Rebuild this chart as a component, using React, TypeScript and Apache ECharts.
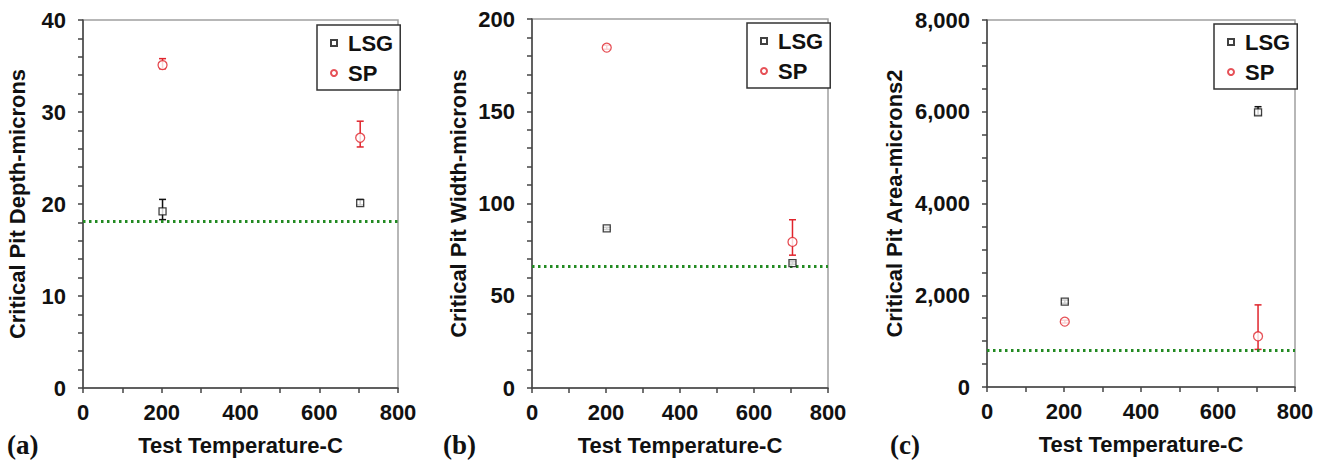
import React, { useEffect, useRef } from "react";
import * as echarts from "echarts";

// ---- data ----
const temps = [202, 704];

const depthLSG = [19.2, 20.1];
const depthLSGLow = [18.3, 19.9];
const depthLSGHigh = [20.5, 20.5];
const depthSP = [35.1, 27.2];
const depthSPLow = [34.7, 26.2];
const depthSPHigh = [35.8, 29.0];

const widthLSG = [86.5, 67.7];
const widthLSGLow = [85.9, 67.1];
const widthLSGHigh = [87.1, 68.4];
const widthSP = [184.5, 79.2];
const widthSPLow = [183.6, 72.0];
const widthSPHigh = [185.8, 91.2];

const areaLSG = [1862, 5985];
const areaLSGLow = [1825, 5930];
const areaLSGHigh = [1895, 6110];
const areaSP = [1425, 1105];
const areaSPLow = [1395, 820];
const areaSPHigh = [1455, 1790];

const thresholds = [18.1, 66, 800];

const yTitles = [
  "Critical Pit Depth-microns",
  "Critical Pit Width-microns",
  "Critical Pit Area-microns2",
];
const xTitle = "Test Temperature-C";
const panelLabels = ["(a)", "(b)", "(c)"];
const yMax = [40, 200, 8000];
const yMajor = [10, 50, 2000];
const yMinorSplit = [5, 5, 4];

const FONT = "'Liberation Sans', Arial, sans-serif";
const RED = "#e0242c";
const BLACK = "#111";
const GREEN = "#228a22";
const AXIS = "#444";

const grids = [
  { left: 83, top: 20, width: 315, height: 368 },
  { left: 532, top: 19, width: 296, height: 369 },
  { left: 987, top: 20, width: 308, height: 367 },
];
const legendPos = [
  { left: 317, top: 25 },
  { left: 747, top: 23 },
  { left: 1214, top: 24 },
];
const yNameGap = [55, 63, 82];
const labelX = [7, 443, 890];

export default function App() {
  const ref = useRef<HTMLDivElement>(null);
  useEffect(() => {
    document.body.style.margin = "0";
    const chart = echarts.init(ref.current!, null, { renderer: "svg" });

    const panels = [
      { lsg: depthLSG, lsgLo: depthLSGLow, lsgHi: depthLSGHigh, sp: depthSP, spLo: depthSPLow, spHi: depthSPHigh },
      { lsg: widthLSG, lsgLo: widthLSGLow, lsgHi: widthLSGHigh, sp: widthSP, spLo: widthSPLow, spHi: widthSPHigh },
      { lsg: areaLSG, lsgLo: areaLSGLow, lsgHi: areaLSGHigh, sp: areaSP, spLo: areaSPLow, spHi: areaSPHigh },
    ];

    const errRender = (color: string) => (params: any, api: any) => {
      const x = api.value(0);
      const lo = api.value(1);
      const hi = api.value(2);
      const p1 = api.coord([x, lo]);
      const p2 = api.coord([x, hi]);
      const style = { stroke: color, lineWidth: 1.5 };
      const w = 3.5;
      return {
        type: "group",
        children: [
          { type: "line", shape: { x1: p1[0], y1: p1[1], x2: p2[0], y2: p2[1] }, style },
          { type: "line", shape: { x1: p1[0] - w, y1: p1[1], x2: p1[0] + w, y2: p1[1] }, style },
          { type: "line", shape: { x1: p2[0] - w, y1: p2[1], x2: p2[0] + w, y2: p2[1] }, style },
        ],
      };
    };

    const series: any[] = [];
    panels.forEach((p, i) => {
      series.push({
        type: "custom",
        name: "LSG err " + i,
        xAxisIndex: i,
        yAxisIndex: i,
        renderItem: errRender(BLACK),
        encode: { x: 0, y: [1, 2] },
        data: temps.map((t, k) => [t, p.lsgLo[k], p.lsgHi[k]]),
        z: 2,
        silent: true,
      });
      series.push({
        type: "custom",
        name: "SP err " + i,
        xAxisIndex: i,
        yAxisIndex: i,
        renderItem: errRender(RED),
        encode: { x: 0, y: [1, 2] },
        data: temps.map((t, k) => [t, p.spLo[k], p.spHi[k]]),
        z: 2,
        silent: true,
      });
      series.push({
        type: "scatter",
        name: "LSG",
        xAxisIndex: i,
        yAxisIndex: i,
        symbol: "rect",
        symbolSize: 7,
        itemStyle: { color: "#fff", borderColor: BLACK, borderWidth: 1.3 },
        data: temps.map((t, k) => [t, p.lsg[k]]),
        z: 5,
        markLine: {
          silent: true,
          symbol: ["none", "none"],
          label: { show: false },
          lineStyle: { color: GREEN, width: 2.8, type: [2.5, 3.5] },
          data: [{ yAxis: thresholds[i] }],
        },
      });
      series.push({
        type: "scatter",
        name: "SP",
        xAxisIndex: i,
        yAxisIndex: i,
        symbol: "circle",
        symbolSize: 9,
        itemStyle: { color: "#fff", borderColor: RED, borderWidth: 1.3 },
        data: temps.map((t, k) => [t, p.sp[k]]),
        z: 5,
      });
    });

    const option: any = {
      animation: false,
      backgroundColor: "#fff",
      grid: grids.map((g) => ({
        ...g,
        show: true,
        borderColor: "#a0a0a0",
        borderWidth: 1.5,
        containLabel: false,
      })),
      legend: legendPos.map((lp) => ({
        ...lp,
        orient: "vertical",
        data: ["LSG", "SP"],
        backgroundColor: "#fff",
        borderColor: "#333",
        borderWidth: 1.5,
        borderRadius: 0,
        padding: [7, 7, 6, 13],
        itemWidth: 6,
        itemHeight: 6,
        itemGap: 8,
        selectedMode: false,
        textStyle: {
          fontFamily: FONT,
          fontWeight: "bold",
          fontSize: 22,
          color: BLACK,
          lineHeight: 20,
          padding: [0, 0, 0, 6],
        },
      })),
      xAxis: grids.map((_, i) => ({
        type: "value",
        gridIndex: i,
        min: 0,
        max: 800,
        interval: 200,
        name: xTitle,
        nameLocation: "middle",
        nameGap: 46,
        nameTextStyle: { fontFamily: FONT, fontWeight: "bold", fontSize: 22, color: BLACK },
        axisLine: { show: true, onZero: false, lineStyle: { color: AXIS, width: 1.5 } },
        axisTick: { show: true, inside: false, length: 5, lineStyle: { color: AXIS, width: 1.5 } },
        minorTick: { show: true, splitNumber: 2, length: 5, lineStyle: { color: AXIS, width: 1.5 } },
        splitLine: { show: false },
        axisLabel: { margin: 13, fontFamily: FONT, fontWeight: "bold", fontSize: 22, color: BLACK },
      })),
      yAxis: grids.map((_, i) => ({
        type: "value",
        gridIndex: i,
        min: 0,
        max: yMax[i],
        interval: yMajor[i],
        name: yTitles[i],
        nameLocation: "middle",
        nameGap: yNameGap[i],
        nameTextStyle: { fontFamily: FONT, fontWeight: "bold", fontSize: 22, color: BLACK },
        axisLine: { show: true, onZero: false, lineStyle: { color: AXIS, width: 1.5 } },
        axisTick: { show: true, inside: false, length: 5, lineStyle: { color: AXIS, width: 1.5 } },
        minorTick: { show: true, splitNumber: yMinorSplit[i], length: 5, lineStyle: { color: AXIS, width: 1.5 } },
        splitLine: { show: false },
        axisLabel: {
          margin: 17,
          fontFamily: FONT,
          fontWeight: "bold",
          fontSize: 22,
          color: BLACK,
          formatter: (v: number) => v.toLocaleString("en-US"),
        },
      })),
      graphic: panelLabels.map((t, i) => ({
        type: "text",
        left: labelX[i],
        top: 431,
        style: {
          text: t,
          font: "bold 27px 'Liberation Serif', 'Times New Roman', serif",
          fill: BLACK,
        },
      })),
      series,
    };
    chart.setOption(option);
    return () => chart.dispose();
  }, []);
  return <div ref={ref} style={{ width: 1326, height: 464 }} />;
}
